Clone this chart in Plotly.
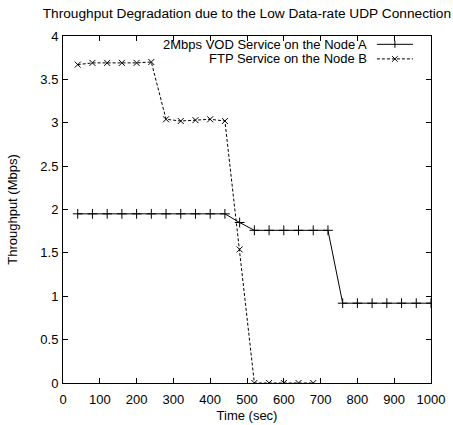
import plotly.graph_objects as go

# Data
vod_time = [40, 80, 120, 160, 200, 240, 280, 320, 360, 400, 440,
            480, 520, 560, 600, 640, 680, 720,
            760, 800, 840, 880, 920, 960, 1000]
vod_tput = [1.95, 1.95, 1.95, 1.95, 1.95, 1.95, 1.95, 1.95, 1.95, 1.95, 1.95,
            1.85, 1.76, 1.76, 1.76, 1.76, 1.76, 1.76,
            0.92, 0.92, 0.92, 0.92, 0.92, 0.92, 0.92]

ftp_time = [40, 80, 120, 160, 200, 240, 280, 320, 360, 400, 440, 480,
            520, 560, 600, 640, 680]
ftp_tput = [3.67, 3.69, 3.69, 3.69, 3.69, 3.70, 3.04, 3.02, 3.03, 3.04, 3.02, 1.54,
            0.0, 0.0, 0.0, 0.0, 0.0]

series_names = ["2Mbps VOD Service on the Node A", "FTP Service on the Node B"]
x_ticks = [0, 100, 200, 300, 400, 500, 600, 700, 800, 900, 1000]
y_ticks = [0, 0.5, 1, 1.5, 2, 2.5, 3, 3.5, 4]

FONT = "Liberation Sans, Arial, Helvetica, sans-serif"
INK = "#000000"

fig = go.Figure()
fig.add_trace(go.Scatter(
    x=vod_time, y=vod_tput, mode="lines+markers", name=series_names[0],
    line=dict(color=INK, width=1),
    marker=dict(symbol="cross-thin", size=7, line=dict(color=INK, width=1)),
    showlegend=False,
))
fig.add_trace(go.Scatter(
    x=ftp_time, y=ftp_tput, mode="lines+markers", name=series_names[1],
    line=dict(color=INK, width=1, dash="3px,2px"),
    marker=dict(symbol="x-thin", size=6, line=dict(color=INK, width=1)),
    showlegend=False,
))

# gnuplot-style key (text right-aligned, sample line to the right)
rows_y = [0.976, 0.934]
txt_x = 0.829
ln_x0, ln_x1, mk_x = 0.853, 0.951, 0.902
hx, hy = 0.0095, 0.0100
shapes = []
annotations = []
for i, (name, yy) in enumerate(zip(series_names, rows_y)):
    annotations.append(dict(
        x=txt_x, y=yy, xref="paper", yref="paper", text=name, showarrow=False,
        xanchor="right", yanchor="middle", borderpad=0,
        font=dict(family=FONT, size=13, color=INK)))
    shapes.append(dict(type="line", xref="paper", yref="paper",
                       x0=ln_x0, x1=ln_x1, y0=yy, y1=yy,
                       line=dict(color=INK, width=1, dash="solid" if i == 0 else "3px,2px")))
    if i == 0:
        shapes.append(dict(type="line", xref="paper", yref="paper",
                           x0=mk_x, x1=mk_x, y0=yy - hy, y1=yy + hy, line=dict(color=INK, width=1)))
    else:
        shapes.append(dict(type="line", xref="paper", yref="paper",
                           x0=mk_x - hx * 0.8, x1=mk_x + hx * 0.8, y0=yy - hy * 0.8, y1=yy + hy * 0.8,
                           line=dict(color=INK, width=1)))
        shapes.append(dict(type="line", xref="paper", yref="paper",
                           x0=mk_x - hx * 0.8, x1=mk_x + hx * 0.8, y0=yy + hy * 0.8, y1=yy - hy * 0.8,
                           line=dict(color=INK, width=1)))

axis_common = dict(
    showline=True, linecolor=INK, linewidth=1, mirror="allticks",
    ticks="inside", ticklen=5, tickcolor=INK, tickwidth=1,
    showgrid=False, zeroline=False, automargin=False,
    tickfont=dict(family=FONT, size=13, color=INK),
)

fig.update_layout(
    width=453, height=425,
    margin=dict(l=63, r=22, t=36, b=42),
    paper_bgcolor="white", plot_bgcolor="white",
    font=dict(family=FONT, size=13, color=INK),
    title=dict(text="Throughput Degradation due to the Low Data-rate UDP Connection",
               x=0.545, xanchor="center", y=0.969, yanchor="middle",
               font=dict(family=FONT, size=13.7, color=INK)),
    xaxis=dict(range=[0, 1000], tickvals=x_ticks, ticklabelstandoff=4,
               title=dict(text="Time (sec)", standoff=5, font=dict(family=FONT, size=13)),
               **axis_common),
    yaxis=dict(range=[0, 4], tickvals=y_ticks, ticklabelstandoff=1,
               title=dict(text="Throughput (Mbps)", standoff=19, font=dict(family=FONT, size=13)),
               **axis_common),
    shapes=shapes, annotations=annotations,
)

fig.write_html("out.html")
